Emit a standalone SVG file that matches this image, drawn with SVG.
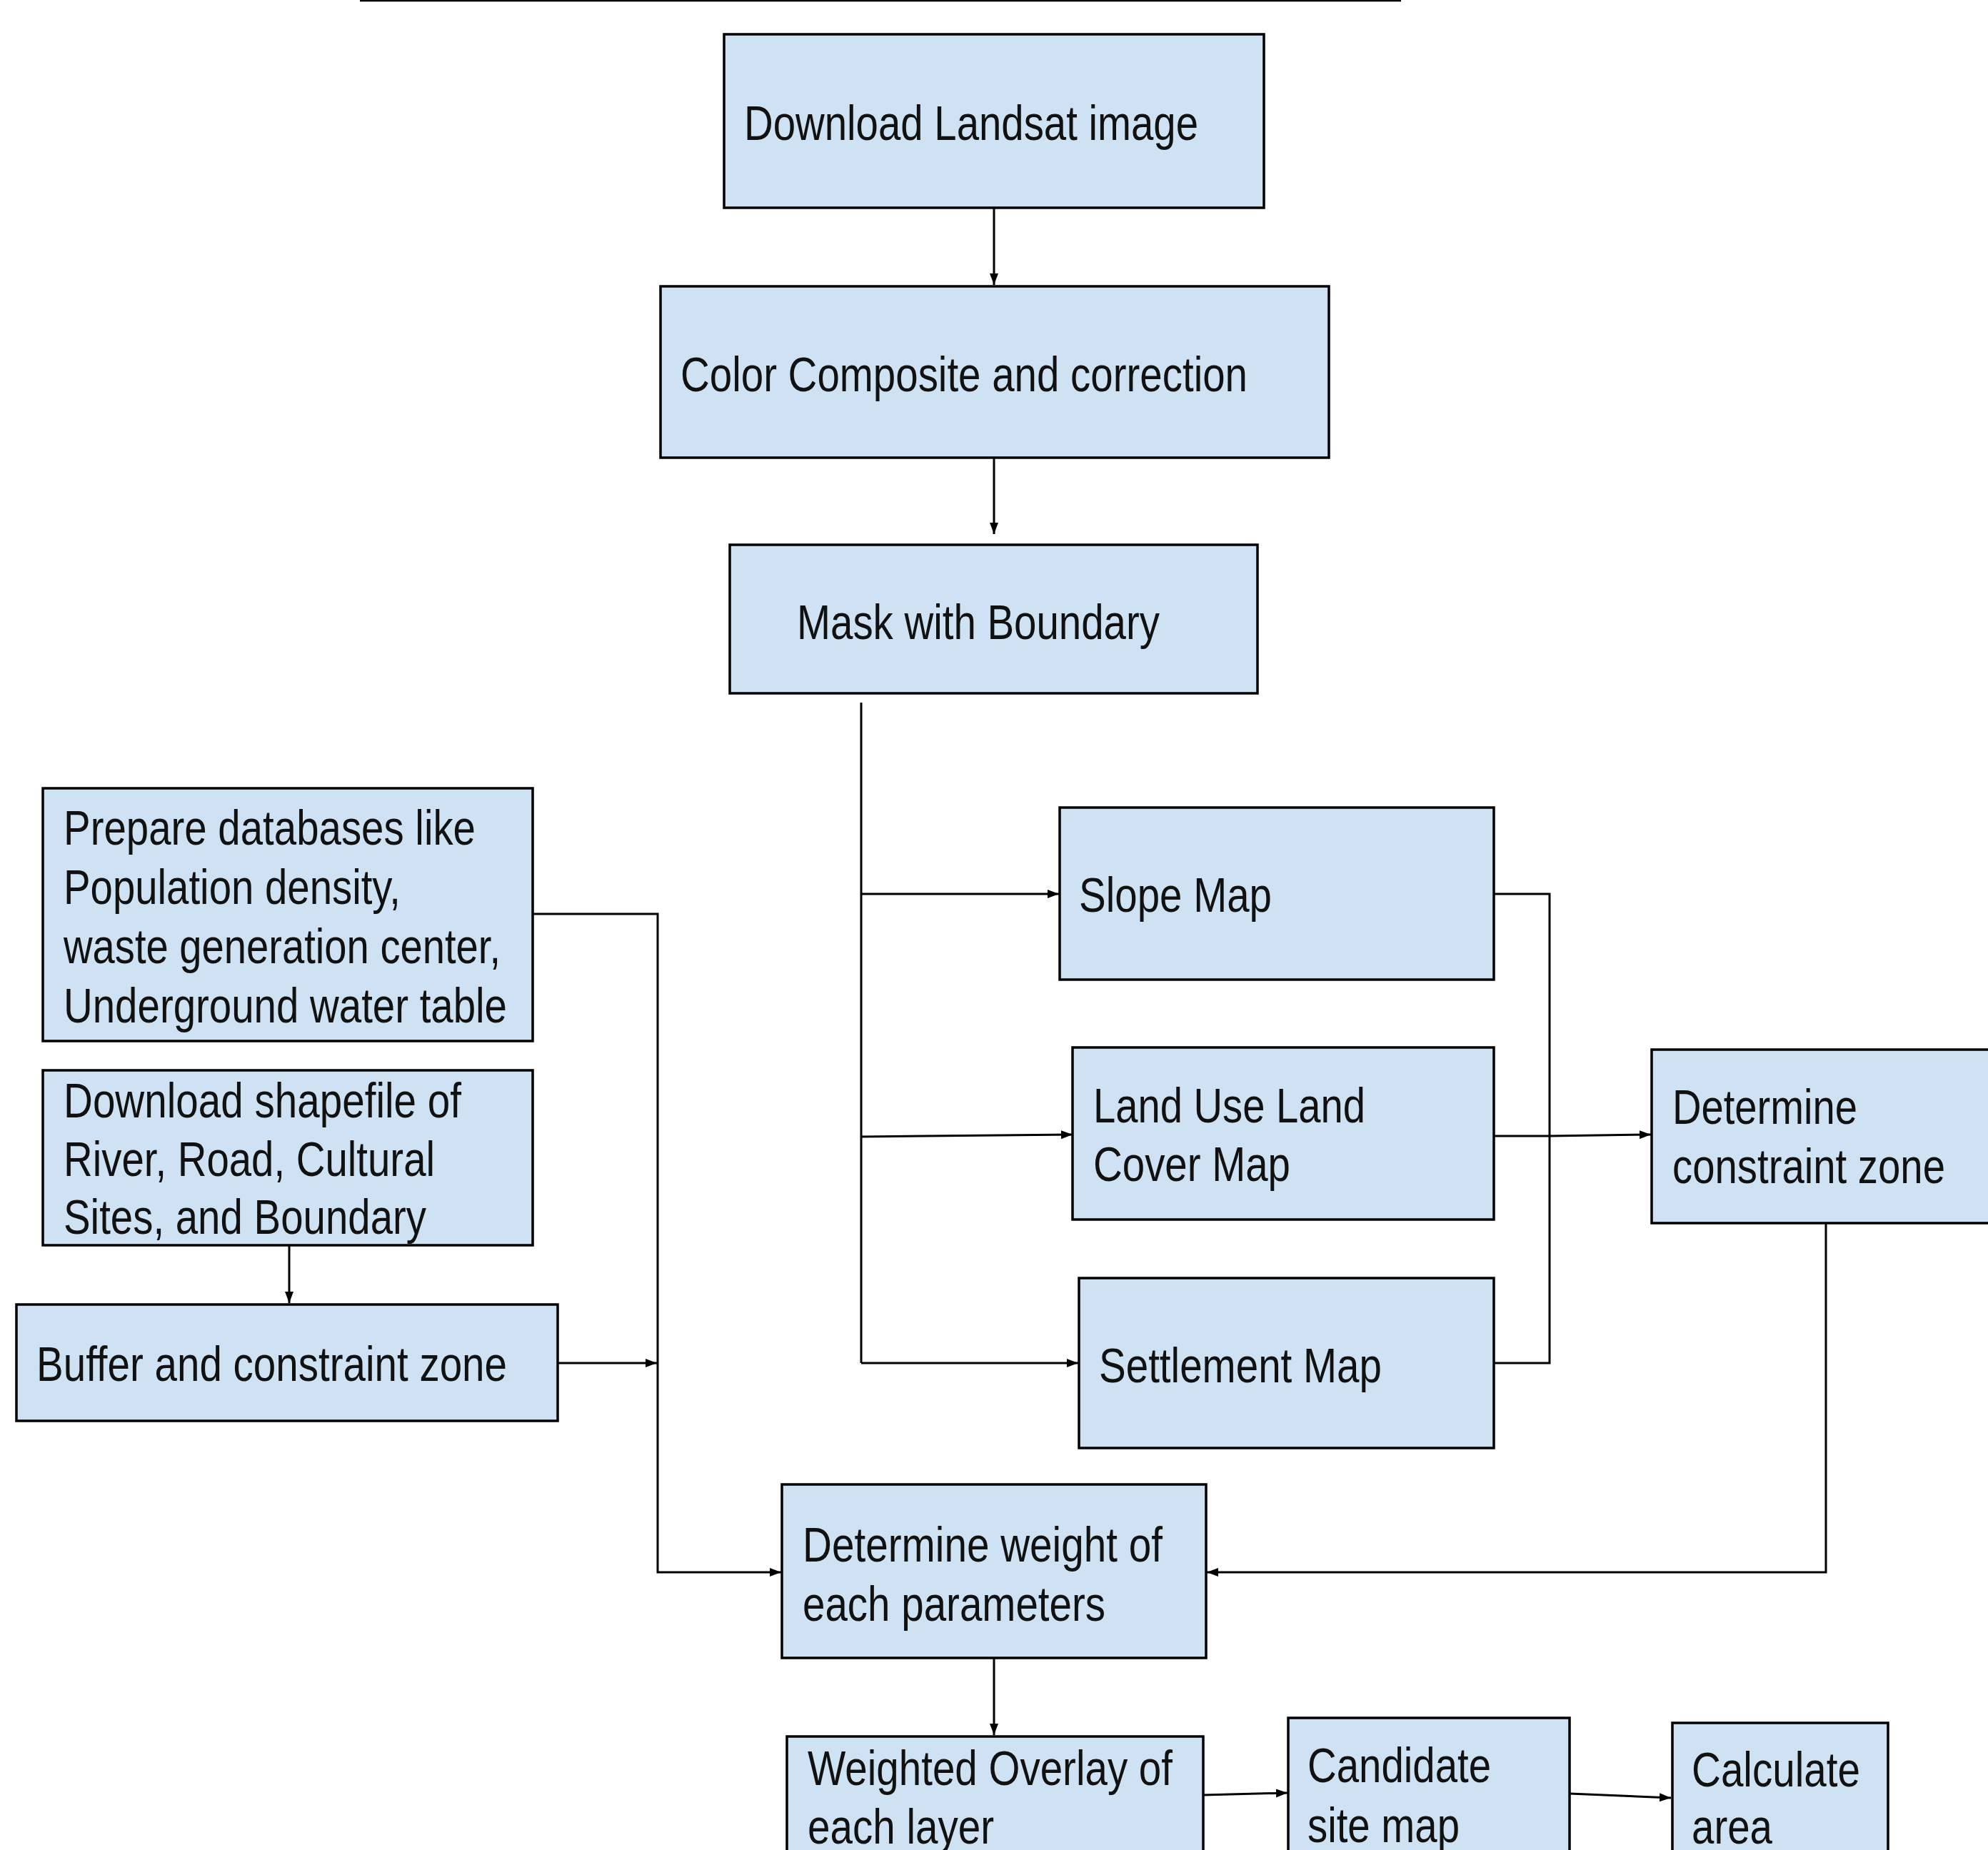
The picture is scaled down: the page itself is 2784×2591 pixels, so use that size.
<svg xmlns="http://www.w3.org/2000/svg" width="2784" height="2591" viewBox="0 0 2784 2591">
<style>
.box{fill:#cfe2f3;stroke:#000;stroke-width:3.5}
.t{font-family:"Liberation Sans",Arial,sans-serif;font-size:68px;fill:#111}
.c{fill:none;stroke:#000;stroke-width:3}
</style>
<defs>
<marker id="ah" markerUnits="userSpaceOnUse" markerWidth="18" markerHeight="14" refX="16" refY="7" orient="auto">
<path d="M0,1 L16,7 L0,13 z" fill="#000"/>
</marker>
</defs>
<rect width="2784" height="2591" fill="#fff"/>
<line x1="504" y1="1" x2="1962" y2="1" stroke="#000" stroke-width="2.5"/>

<g id="connectors">
<line class="c" x1="1392" y1="291" x2="1392" y2="399" marker-end="url(#ah)"/>
<line class="c" x1="1392" y1="641" x2="1392" y2="748" marker-end="url(#ah)"/>
<polyline class="c" points="1206,984 1206,1909"/>
<line class="c" x1="1206" y1="1252" x2="1483" y2="1252" marker-end="url(#ah)"/>
<line class="c" x1="1206" y1="1592" x2="1502" y2="1589" marker-end="url(#ah)"/>
<line class="c" x1="1206" y1="1909" x2="1510" y2="1909" marker-end="url(#ah)"/>
<polyline class="c" points="2092,1252 2170,1252 2170,1909 2092,1909"/>
<line class="c" x1="2092" y1="1591" x2="2170" y2="1591"/>
<line class="c" x1="2170" y1="1591" x2="2312" y2="1589" marker-end="url(#ah)"/>
<polyline class="c" points="2557,1713 2557,2202 1690,2202" marker-end="url(#ah)"/>
<polyline class="c" points="746,1280 921,1280 921,2202 1094,2202" marker-end="url(#ah)"/>
<line class="c" x1="781" y1="1909" x2="920" y2="1909" marker-end="url(#ah)"/>
<line class="c" x1="405" y1="1744" x2="405" y2="1825" marker-end="url(#ah)"/>
<line class="c" x1="1392" y1="2322" x2="1392" y2="2430" marker-end="url(#ah)"/>
<line class="c" x1="1685" y1="2514" x2="1803" y2="2511" marker-end="url(#ah)"/>
<line class="c" x1="2198" y1="2512" x2="2340" y2="2518" marker-end="url(#ah)"/>
</g>

<g id="n-download-landsat">
<rect class="box" x="1014" y="48" width="756" height="243"/>
<text class="t" x="1042" y="196" textLength="636" lengthAdjust="spacingAndGlyphs">Download Landsat image</text>
</g>
<g id="n-color-composite">
<rect class="box" x="925" y="401" width="936" height="240"/>
<text class="t" x="953" y="548" textLength="794" lengthAdjust="spacingAndGlyphs">Color Composite and correction</text>
</g>
<g id="n-mask">
<rect class="box" x="1022" y="763" width="739" height="208"/>
<text class="t" x="1116" y="895" textLength="508" lengthAdjust="spacingAndGlyphs">Mask with Boundary</text>
</g>
<g id="n-prepare">
<rect class="box" x="60" y="1104" width="686" height="354"/>
<text class="t" x="89" y="1183" textLength="577" lengthAdjust="spacingAndGlyphs">Prepare databases like</text>
<text class="t" x="89" y="1266" textLength="472" lengthAdjust="spacingAndGlyphs">Population density,</text>
<text class="t" x="89" y="1349" textLength="612" lengthAdjust="spacingAndGlyphs">waste generation center,</text>
<text class="t" x="89" y="1432" textLength="621" lengthAdjust="spacingAndGlyphs">Underground water table</text>
</g>
<g id="n-shapefile">
<rect class="box" x="60" y="1499" width="686" height="245"/>
<text class="t" x="89" y="1565" textLength="557" lengthAdjust="spacingAndGlyphs">Download shapefile of</text>
<text class="t" x="89" y="1647" textLength="520" lengthAdjust="spacingAndGlyphs">River, Road, Cultural</text>
<text class="t" x="89" y="1728" textLength="508" lengthAdjust="spacingAndGlyphs">Sites, and Boundary</text>
</g>
<g id="n-buffer">
<rect class="box" x="23" y="1827" width="758" height="163"/>
<text class="t" x="51" y="1934" textLength="659" lengthAdjust="spacingAndGlyphs">Buffer and constraint zone</text>
</g>
<g id="n-slope">
<rect class="box" x="1484" y="1131" width="608" height="241"/>
<text class="t" x="1511" y="1277" textLength="270" lengthAdjust="spacingAndGlyphs">Slope Map</text>
</g>
<g id="n-lulc">
<rect class="box" x="1502" y="1467" width="590" height="241"/>
<text class="t" x="1531" y="1572" textLength="381" lengthAdjust="spacingAndGlyphs">Land Use Land</text>
<text class="t" x="1531" y="1654" textLength="276" lengthAdjust="spacingAndGlyphs">Cover Map</text>
</g>
<g id="n-settlement">
<rect class="box" x="1511" y="1790" width="581" height="238"/>
<text class="t" x="1539" y="1936" textLength="396" lengthAdjust="spacingAndGlyphs">Settlement Map</text>
</g>
<g id="n-constraint">
<rect class="box" x="2313" y="1470" width="500" height="243"/>
<text class="t" x="2342" y="1574" textLength="259" lengthAdjust="spacingAndGlyphs">Determine</text>
<text class="t" x="2342" y="1657" textLength="382" lengthAdjust="spacingAndGlyphs">constraint zone</text>
</g>
<g id="n-weight">
<rect class="box" x="1095" y="2079" width="594" height="243"/>
<text class="t" x="1124" y="2187" textLength="504" lengthAdjust="spacingAndGlyphs">Determine weight of</text>
<text class="t" x="1124" y="2270" textLength="424" lengthAdjust="spacingAndGlyphs">each parameters</text>
</g>
<g id="n-overlay">
<rect class="box" x="1102" y="2432" width="583" height="200"/>
<text class="t" x="1131" y="2500" textLength="511" lengthAdjust="spacingAndGlyphs">Weighted Overlay of</text>
<text class="t" x="1131" y="2582" textLength="261" lengthAdjust="spacingAndGlyphs">each layer</text>
</g>
<g id="n-candidate">
<rect class="box" x="1804" y="2406" width="394" height="226"/>
<text class="t" x="1831" y="2496" textLength="257" lengthAdjust="spacingAndGlyphs">Candidate</text>
<text class="t" x="1831" y="2580" textLength="213" lengthAdjust="spacingAndGlyphs">site map</text>
</g>
<g id="n-calculate">
<rect class="box" x="2342" y="2413" width="302" height="219"/>
<text class="t" x="2369" y="2502" textLength="236" lengthAdjust="spacingAndGlyphs">Calculate</text>
<text class="t" x="2369" y="2582" textLength="113" lengthAdjust="spacingAndGlyphs">area</text>
</g>
</svg>
